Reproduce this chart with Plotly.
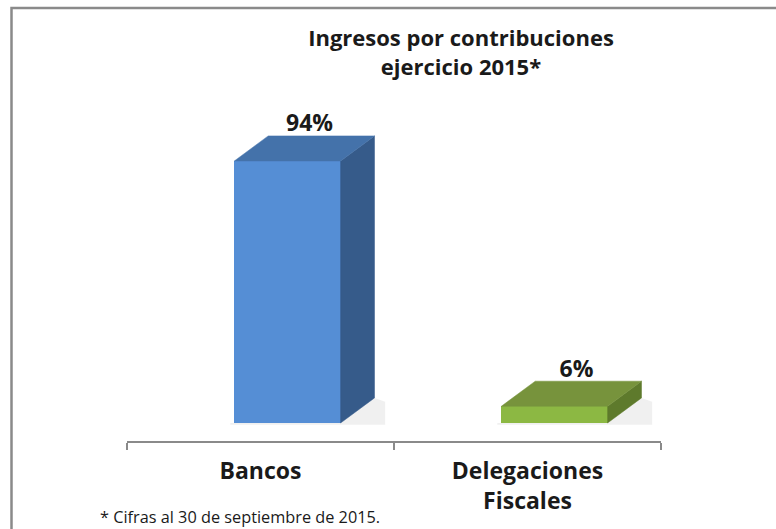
import plotly.graph_objects as go

# ---- data ----
categories = ["Bancos", "Delegaciones<br>Fiscales"]
values = [94, 6]
value_labels = ["94%", "6%"]
title_lines = ["Ingresos por contribuciones", "ejercicio 2015*"]
footnote = "* Cifras al 30 de septiembre de 2015."

# ---- style ----
front_colors = ["#558ED5", "#8CB843"]
top_colors = ["#4472AA", "#77933C"]
side_colors = ["#365B8A", "#5E7A2C"]
FONT = "Open Sans"
TXT = "#1a1a1a"

W, H = 776, 529
ML, MR, MT, MB = 127, 115, 120, 88
pw = W - ML - MR
ph = H - MT - MB

L, R = -0.098, 0.300      # front face extent relative to category centre
DX = 0.127                # depth offset (x units)
DY = 9.0                  # depth offset (y units)
yr = [-6.46, 108.7]

positions = list(range(len(categories)))

fig = go.Figure()

# soft shadows (kept outside the front faces)
for i, v in zip(positions, values):
    x0, x1 = i + L, i + R
    fig.add_trace(go.Scatter(
        x=[x0 - 0.015, x1 + DX + 0.04, x1 + DX + 0.04, x1 + DX, x1, x0 - 0.015, x0 - 0.015],
        y=[-0.6, -0.6, DY * 0.85, DY, 0, 0, -0.6],
        fill="toself", mode="lines", line=dict(width=0),
        fillcolor="rgba(110,110,110,0.10)", hoverinfo="skip", showlegend=False))

for i, v in zip(positions, values):
    x0, x1 = i + L, i + R
    # side face
    fig.add_trace(go.Scatter(
        x=[x1, x1, x1 + DX, x1 + DX, x1],
        y=[0, v, v + DY, DY, 0],
        fill="toself", mode="lines", line=dict(width=0.5, color=side_colors[i]),
        fillcolor=side_colors[i], hoverinfo="skip", showlegend=False))
    # top face
    fig.add_trace(go.Scatter(
        x=[x0, x1, x1 + DX, x0 + DX, x0],
        y=[v, v, v + DY, v + DY, v],
        fill="toself", mode="lines", line=dict(width=0.5, color=top_colors[i]),
        fillcolor=top_colors[i], hoverinfo="skip", showlegend=False))

# front faces
fig.add_trace(go.Bar(
    x=[p + (L + R) / 2 for p in positions], y=values, width=R - L,
    marker=dict(color=front_colors, line=dict(width=0)),
    hoverinfo="skip", showlegend=False))

# value labels
fig.add_trace(go.Scatter(
    x=[p + (L + R) / 2 + DX * 0.65 for p in positions],
    y=[v + DY * 0.95 for v in values],
    mode="text", text=value_labels, textposition="top center",
    textfont=dict(family=FONT, size=23, color=TXT, weight="bold"),
    hoverinfo="skip", showlegend=False, cliponaxis=False))

fig.update_layout(
    width=W, height=H,
    margin=dict(l=ML, r=MR, t=MT, b=MB),
    paper_bgcolor="white", plot_bgcolor="white",
    bargap=0,
    title=dict(
        text="<br>".join(title_lines),
        x=461 / W, xanchor="center", y=1 - 46 / H, yanchor="middle",
        font=dict(family=FONT, size=22, color=TXT, weight="bold")),
    xaxis=dict(
        range=[-0.5, len(categories) - 0.5],
        tickmode="array", tickvals=positions, ticktext=categories,
        ticks="", showgrid=False, zeroline=False,
        showline=True, linecolor="#8a8a8a", linewidth=2,
        tickfont=dict(family=FONT, size=23, color=TXT, weight="bold"),
        ticklabelstandoff=8,
        minor=dict(tickmode="linear", tick0=-0.5, dtick=1, ticks="outside",
                   ticklen=7, tickwidth=2, tickcolor="#8a8a8a", showgrid=False),
        fixedrange=True),
    yaxis=dict(range=yr, visible=False, fixedrange=True),
    annotations=[dict(
        text=footnote, xref="paper", yref="paper",
        x=(98 - ML) / pw, y=(H - MB - 517) / ph, xanchor="left", yanchor="middle",
        showarrow=False, font=dict(family=FONT, size=16.3, color=TXT))],
    shapes=[dict(
        type="path", xref="paper", yref="paper", layer="above",
        path="M {a},{b} L {a},{c} L {d},{c}".format(
            a=(11.5 - ML) / pw, b=(H - MB - 540) / ph,
            c=(H - MB - 8) / ph, d=(790 - ML) / pw),
        line=dict(color="#8a8a8a", width=2.5))],
)

fig.write_html("out.html", config={"displayModeBar": False},
               post_script="document.body.style.margin='0';")
